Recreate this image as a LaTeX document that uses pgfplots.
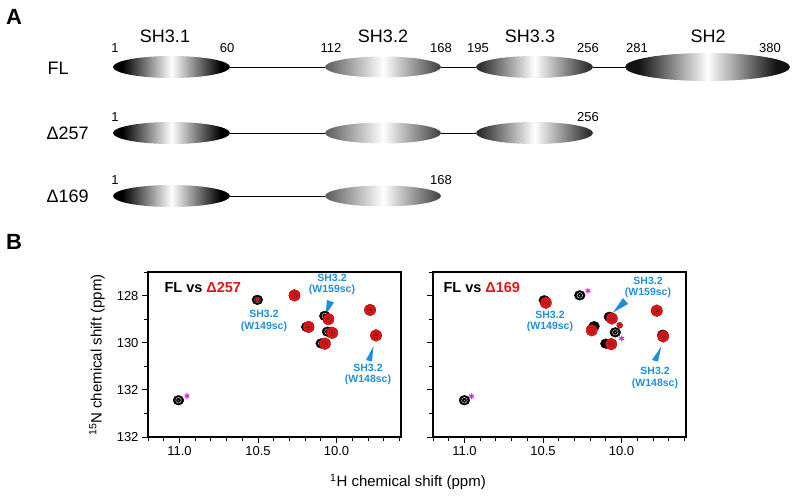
\documentclass[border=0pt]{standalone}
\usepackage{pgfplots}
\pgfplotsset{compat=1.18}
\usepackage{fontspec}
\setmainfont{Liberation Sans}
\definecolor{nred}{RGB}{228,22,22}
\definecolor{nblue}{RGB}{30,142,222}
\definecolor{nmag}{RGB}{222,40,222}
\definecolor{gA}{gray}{0.38}
\definecolor{gB}{gray}{0.27}
\definecolor{gC}{gray}{0.19}
\definecolor{gD}{gray}{0.07}
\pgfdeclarehorizontalshading{shK}{100bp}{color(0bp)=(black); color(29bp)=(black); color(50bp)=(white); color(71bp)=(black); color(100bp)=(black)}
\pgfdeclarehorizontalshading{shG}{100bp}{color(0bp)=(gA); color(26bp)=(gA); color(50bp)=(white); color(74bp)=(gB); color(100bp)=(gB)}
\pgfdeclarehorizontalshading{shD}{100bp}{color(0bp)=(gC); color(27bp)=(gC); color(50bp)=(white); color(73bp)=(gC); color(100bp)=(gC)}
\pgfdeclarehorizontalshading{shS}{100bp}{color(0bp)=(gD); color(29bp)=(gD); color(50bp)=(white); color(71bp)=(gD); color(100bp)=(gD)}
\newcommand{\fs}[1]{\fontsize{#1}{#1}\selectfont}
\pgfplotsset{nmr/.style={width=253pt,height=165pt,scale only axis,
  x dir=reverse, y dir=reverse, xmin=9.59, xmax=11.2, ymin=127, ymax=134,
  xtick={10,10.5,11}, xticklabels={10.0,10.5,11.0},
  minor xtick={9.6,9.7,9.8,9.9,10.1,10.2,10.3,10.4,10.6,10.7,10.8,10.9,11.1,11.2},
  ytick={128,130,132,134}, minor ytick={127,129,131,133},
  tick align=outside, xtick pos=bottom, ytick pos=left,
  major tick length=6pt, minor tick length=4pt,
  axis line style={line width=1.3pt},
  every tick/.append style={black, line width=0.9pt},
  tick label style={font=\fs{13}},
  /pgf/number format/assume math mode=true, clip=false},
  bpk/.style={only marks, mark=*, mark size=5.4pt, mark options={draw=black, fill=black, yscale=0.9}},
  rpk/.style={only marks, mark=*, mark size=5.6pt, mark options={draw=nred!55!black, fill=nred, yscale=1.06}},
  wring/.style={only marks, mark=o, mark size=2.8pt, mark options={draw=white, line width=0.5pt, opacity=0.8}},
  rring/.style={only marks, mark=o, mark size=3.1pt, mark options={draw=nred!45!black, line width=0.45pt, opacity=0.7}},
  wdot/.style={only marks, mark=*, mark size=1.0pt, mark options={draw=none, fill=white}},
  ast/.style={only marks, mark=asterisk, mark size=2.8pt, mark options={draw=nmag, line width=1.1pt}}
}
\begin{document}
\begin{tikzpicture}
\useasboundingbox (0,0) rectangle (795pt,496pt);
% overlay axis in pixel units (schematic, labels)
\begin{axis}[at={(0pt,0pt)}, anchor=south west, width=795pt, height=496pt, scale only axis,
  xmin=0, xmax=795, ymin=0, ymax=496, y dir=reverse, hide axis, clip=false]
% linkers
\addplot[black, line width=1pt] coordinates {(230,67) (325,67)};
\addplot[black, line width=1pt] coordinates {(441,67) (476,67)};
\addplot[black, line width=1pt] coordinates {(593,67) (625,67)};
\addplot[black, line width=1pt] coordinates {(230,133) (325,133)};
\addplot[black, line width=1pt] coordinates {(441,133) (476,133)};
\addplot[black, line width=1pt] coordinates {(230,196) (325,196)};
% FL domains
\shade[shading=shK] (axis cs:171.5,67) ellipse [x radius=58.5, y radius=11];
\shade[shading=shG] (axis cs:383,67) ellipse [x radius=58, y radius=10.5];
\shade[shading=shD] (axis cs:534.5,67) ellipse [x radius=58.5, y radius=11];
\shade[shading=shS] (axis cs:707.5,67) ellipse [x radius=82.5, y radius=14];
% Delta257
\shade[shading=shK] (axis cs:171.5,133) ellipse [x radius=58.5, y radius=11];
\shade[shading=shG] (axis cs:383,133) ellipse [x radius=58, y radius=10.5];
\shade[shading=shD] (axis cs:534.5,133) ellipse [x radius=58.5, y radius=11];
% Delta169
\shade[shading=shK] (axis cs:171.5,196) ellipse [x radius=58.5, y radius=11];
\shade[shading=shG] (axis cs:383,196) ellipse [x radius=58, y radius=10.5];
% labels panel A
\node[font=\bfseries\fs{22}] at (axis cs:14,17) {A};
\node[font=\bfseries\fs{22}] at (axis cs:14,242) {B};
\node[font=\fs{18}] at (axis cs:165,36) {SH3.1};
\node[font=\fs{18}] at (axis cs:383,36) {SH3.2};
\node[font=\fs{18}] at (axis cs:530,36) {SH3.3};
\node[font=\fs{18}] at (axis cs:708,36) {SH2};
\node[font=\fs{13}] at (axis cs:115,48) {1};
\node[font=\fs{13}] at (axis cs:227,48) {60};
\node[font=\fs{13}] at (axis cs:331,48) {112};
\node[font=\fs{13}] at (axis cs:441,48) {168};
\node[font=\fs{13}] at (axis cs:478,48) {195};
\node[font=\fs{13}] at (axis cs:588,48) {256};
\node[font=\fs{13}] at (axis cs:637,48) {281};
\node[font=\fs{13}] at (axis cs:770,48) {380};
\node[font=\fs{13}] at (axis cs:115,117) {1};
\node[font=\fs{13}] at (axis cs:588,117) {256};
\node[font=\fs{13}] at (axis cs:115,180) {1};
\node[font=\fs{13}] at (axis cs:441,180) {168};
\node[font=\fs{18}, anchor=west] at (axis cs:44,68) {FL};
\node[font=\fs{18}, anchor=west] at (axis cs:43,133) {Δ257};
\node[font=\fs{18}, anchor=west] at (axis cs:43,196) {Δ169};
% axis labels panel B
\node[font=\fs{15}, rotate=90] at (axis cs:97,355) {\textsuperscript{15}N chemical shift (ppm)};
\node[font=\fs{15}] at (axis cs:408,482) {\textsuperscript{1}H chemical shift (ppm)};
% panel titles
\node[font=\bfseries\fs{14.5}, anchor=west] at (axis cs:161,288) {FL vs \textcolor{nred}{Δ257}};
\node[font=\bfseries\fs{14.5}, anchor=west] at (axis cs:440,288) {FL vs \textcolor{nred}{Δ169}};
% annotations
\node[font=\bfseries\fs{10.5}, text=nblue, align=center, inner sep=0pt] at (axis cs:264,321) {SH3.2\\[1pt](W149sc)};
\node[font=\bfseries\fs{10.5}, text=nblue, align=center, inner sep=0pt] at (axis cs:332,284.5) {SH3.2\\[1pt](W159sc)};
\node[font=\bfseries\fs{10.5}, text=nblue, align=center, inner sep=0pt] at (axis cs:368,374.5) {SH3.2\\[1pt](W148sc)};
\node[font=\bfseries\fs{10.5}, text=nblue, align=center, inner sep=0pt] at (axis cs:550,321.5) {SH3.2\\[1pt](W149sc)};
\node[font=\bfseries\fs{10.5}, text=nblue, align=center, inner sep=0pt] at (axis cs:648,287.5) {SH3.2\\[1pt](W159sc)};
\node[font=\bfseries\fs{10.5}, text=nblue, align=center, inner sep=0pt] at (axis cs:655,378) {SH3.2\\[1pt](W148sc)};
\fill[nblue] (axis cs:327,300) -- (axis cs:334,302.5) -- (axis cs:325.5,315) -- cycle;
\fill[nblue] (axis cs:366,360) -- (axis cs:372,361.5) -- (axis cs:373.5,346) -- cycle;
\fill[nblue] (axis cs:623,298) -- (axis cs:628,304) -- (axis cs:613,312.5) -- cycle;
\fill[nblue] (axis cs:652,360) -- (axis cs:658,361.5) -- (axis cs:661.5,346) -- cycle;
\end{axis}
% left spectrum: FL vs Delta257
\begin{axis}[nmr, at={(148pt,59pt)}, anchor=south west, yticklabels={128,130,132,132}]
\addplot[bpk] coordinates {(11.006,132.44) (10.504,128.18) (10.268,127.99) (10.19,129.33) (10.075,128.86) (10.058,129.53) (10.098,130.03) (9.787,128.61) (9.749,129.69)};
\addplot[wring] coordinates {(11.006,132.44) (10.504,128.18) (10.075,128.86) (10.058,129.53) (10.098,130.03)};
\addplot[wdot] coordinates {(11.006,132.44) (10.504,128.18) (10.058,129.53) (10.098,130.03)};
\addplot[rpk] coordinates {(10.268,127.99) (10.178,129.33) (10.052,129.0) (10.028,129.58) (10.074,130.04) (9.787,128.61) (9.749,129.69)};
\addplot[only marks, mark=*, mark size=2.4pt, mark options={draw=none, fill=nred}] coordinates {(10.504,128.18)};
\addplot[rring] coordinates {(10.268,127.99) (10.178,129.33) (10.052,129.0) (10.028,129.58) (10.074,130.04) (9.787,128.61) (9.749,129.69)};
\addplot[wdot, mark size=0.9pt] coordinates {(10.268,127.99) (10.178,129.33) (10.052,129.0) (10.028,129.58) (10.074,130.04) (9.787,128.61) (9.749,129.69)};
\addplot[ast] coordinates {(10.952,132.26)};
\end{axis}
% right spectrum: FL vs Delta169
\begin{axis}[nmr, at={(433pt,59pt)}, anchor=south west, yticklabels=\empty]
\addplot[bpk] coordinates {(11.0,132.44) (10.492,128.2) (10.266,127.99) (10.175,129.3) (10.078,128.9) (10.04,129.56) (10.1,130.04) (9.776,128.64) (9.738,129.66)};
\addplot[wring] coordinates {(11.0,132.44) (10.266,127.99) (10.04,129.56)};
\addplot[wdot] coordinates {(11.0,132.44) (10.266,127.99) (10.04,129.56)};
\addplot[rpk] coordinates {(10.482,128.3) (10.19,129.47) (10.062,128.97) (10.066,130.06) (9.776,128.64) (9.735,129.73)};
\addplot[only marks, mark=*, mark size=3pt, mark options={draw=nred!55!black, fill=nred}] coordinates {(10.012,129.26)};
\addplot[rring] coordinates {(10.482,128.3) (10.19,129.47) (10.062,128.97) (10.066,130.06) (9.776,128.64) (9.735,129.73)};
\addplot[wdot, mark size=0.9pt] coordinates {(10.482,128.3) (10.19,129.47) (10.062,128.97) (10.066,130.06) (9.776,128.64) (9.735,129.73) (10.012,129.26)};
\addplot[ast] coordinates {(10.955,132.27) (10.214,127.8) (10.0,129.82)};
\end{axis}
\end{tikzpicture}
\end{document}
